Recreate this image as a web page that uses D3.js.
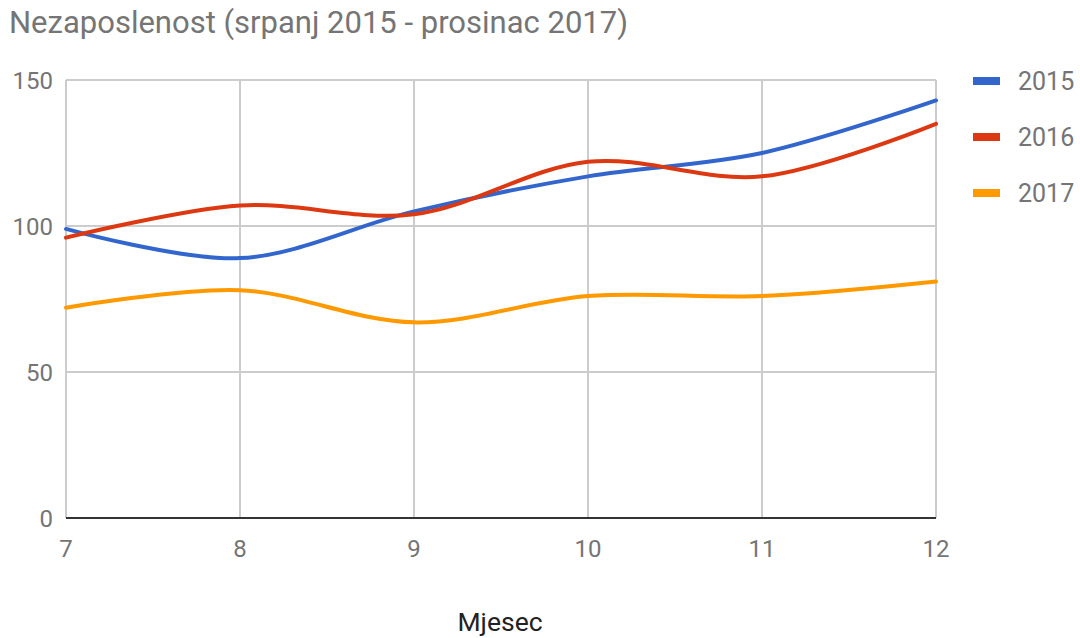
<!DOCTYPE html>
<html><head><meta charset="utf-8">
<script src="https://cdn.jsdelivr.net/npm/d3@7"></script>
<style>body{margin:0;background:#fff}svg{display:block}text{font-family:Roboto,sans-serif}</style>
</head><body>
<svg id="c" width="1080" height="638"></svg>
<script>
const months = [7, 8, 9, 10, 11, 12];
const series2015 = [99, 89, 105, 117, 125, 143];
const series2016 = [96, 107, 104, 122, 117, 135];
const series2017 = [72, 78, 67, 76, 76, 81];
const seriesNames = ["2015", "2016", "2017"];
const seriesColors = ["#3366cc", "#dc3912", "#ff9900"];
const yTicks = [0, 50, 100, 150];
const title = "Nezaposlenost (srpanj 2015 - prosinac 2017)";
const xTitle = "Mjesec";

(function () {
const svg = d3.select("#c");
const pL = 66, pR = 936, pT = 80, pB = 518;
const x = d3.scaleLinear().domain([7, 12]).range([pL, pR]);
const y = d3.scaleLinear().domain([0, 150]).range([pB, pT]);
const grey = "#757575";

svg.append("text").attr("x", 9).attr("y", 33).attr("fill", grey)
  .attr("font-size", 31).text(title);

svg.append("g").selectAll("line").data(yTicks).join("line")
  .attr("x1", pL).attr("x2", pR).attr("y1", d => y(d)).attr("y2", d => y(d))
  .attr("stroke", "#cccccc").attr("stroke-width", 2);
svg.append("g").selectAll("line").data(months).join("line")
  .attr("x1", d => x(d)).attr("x2", d => x(d)).attr("y1", pT).attr("y2", pB)
  .attr("stroke", "#cccccc").attr("stroke-width", 2);

svg.append("g").selectAll("text").data(yTicks).join("text")
  .attr("x", 53).attr("y", d => y(d) + 9).attr("text-anchor", "end")
  .attr("fill", grey).attr("font-size", 24).text(d => d);
svg.append("g").selectAll("text").data(months).join("text")
  .attr("x", d => x(d)).attr("y", 557).attr("text-anchor", "middle")
  .attr("fill", grey).attr("font-size", 24).text(d => d);

svg.append("text").attr("x", 500).attr("y", 631).attr("text-anchor", "middle")
  .attr("fill", "#222").attr("font-size", 26.5).text(xTitle);

const allSeries = [series2015, series2016, series2017];
const line = d3.line().x((d, i) => x(months[i])).y(d => y(d)).curve(d3.curveCatmullRom.alpha(0.5));
allSeries.forEach((s, k) => {
  svg.append("path").attr("d", line(s)).attr("fill", "none")
    .attr("stroke", seriesColors[k]).attr("stroke-width", 4).attr("stroke-linecap", "round");
});

svg.append("line").attr("x1", pL).attr("x2", pR).attr("y1", y(0)).attr("y2", y(0))
  .attr("stroke", "#333").attr("stroke-width", 2);

const lg = svg.append("g").selectAll("g").data(seriesNames).join("g")
  .attr("transform", (d, i) => `translate(973,${81 + i * 56})`);
lg.append("rect").attr("x", 0).attr("y", -4).attr("width", 27).attr("height", 8)
  .attr("fill", (d, i) => seriesColors[i]);
lg.append("text").attr("x", 45).attr("y", 9).attr("fill", grey).attr("font-size", 25).text(d => d);
})();
</script>
</body></html>
